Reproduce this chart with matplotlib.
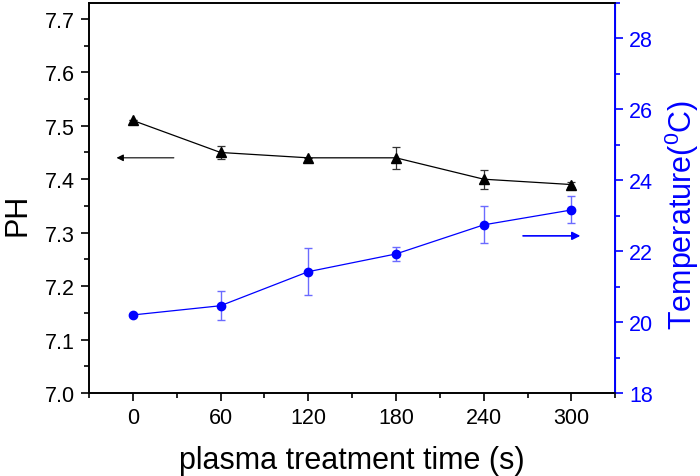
import matplotlib
matplotlib.use("Agg")
import matplotlib.pyplot as plt
from matplotlib.ticker import MultipleLocator, FormatStrFormatter

plt.rcParams['font.family'] = ['Liberation Sans', 'DejaVu Sans']
plt.rcParams['mathtext.fontset'] = 'custom'
plt.rcParams['mathtext.rm'] = 'Liberation Sans'

# data
time_s = [0, 60, 120, 180, 240, 300]
ph = [7.51, 7.45, 7.44, 7.44, 7.40, 7.39]
ph_err = [0.0, 0.012, 0.0, 0.02, 0.018, 0.005]
temp = [20.2, 20.46, 21.42, 21.92, 22.74, 23.16]
temp_err = [0.0, 0.41, 0.67, 0.21, 0.52, 0.38]

blue = '#0000ff'

fig = plt.figure(figsize=(7, 4.77), dpi=100)
ax = fig.add_axes([0.127, 0.174, 0.752, 0.818])
ax2 = ax.twinx()

ax.errorbar(time_s, ph, yerr=ph_err, color='black', lw=0.9, marker='^', ms=7.5,
            ecolor='#333333', elinewidth=0.9, capsize=3, capthick=0.9)
ax2.errorbar(time_s, temp, yerr=temp_err, color=blue, lw=0.9, marker='o', ms=6,
             ecolor='#6b6bff', elinewidth=1.0, capsize=3, capthick=1.0)

# direction arrows
ax.annotate('', xy=(-13, 7.44), xytext=(30, 7.44),
            arrowprops=dict(arrowstyle='-|>', color='black', lw=0.8,
                            mutation_scale=10))
ax2.annotate('', xy=(308, 22.43), xytext=(265, 22.43),
             arrowprops=dict(arrowstyle='-|>', color=blue, lw=1.2,
                             mutation_scale=12))

ax.set_xlim(-30, 330)
ax.set_ylim(7.0, 7.73)
ax2.set_ylim(18, 29)

ax.xaxis.set_major_locator(MultipleLocator(60))
ax.xaxis.set_minor_locator(MultipleLocator(30))
ax.yaxis.set_major_locator(MultipleLocator(0.1))
ax.yaxis.set_minor_locator(MultipleLocator(0.05))
ax.yaxis.set_major_formatter(FormatStrFormatter('%.1f'))
ax2.yaxis.set_major_locator(MultipleLocator(2))
ax2.yaxis.set_minor_locator(MultipleLocator(1))

ax.tick_params(which='both', direction='out', top=False, labelsize=15.5, width=1.2)
ax.tick_params(which='major', length=6, pad=4)
ax.tick_params(which='minor', length=3.5)
ax2.tick_params(which='both', colors=blue, labelsize=15.5, width=1.2)
ax2.tick_params(which='major', length=6, pad=4)
ax2.tick_params(which='minor', length=3.5)

for sp in ['left', 'bottom', 'top']:
    ax.spines[sp].set_linewidth(1.2)
    ax2.spines[sp].set_linewidth(1.2)
ax2.spines['right'].set_color(blue)
ax2.spines['right'].set_linewidth(1.4)

ax.set_xlabel('plasma treatment time (s)', fontsize=22, labelpad=12)
ax.set_ylabel('PH', fontsize=22)
ax2.set_ylabel(r'Temperature($^{\mathrm{0}}$C)', fontsize=22, color=blue)
ax.yaxis.set_label_coords(-0.108, 0.46)
ax2.yaxis.set_label_coords(1.09, 0.46)

fig.savefig('out.png', dpi=100)
